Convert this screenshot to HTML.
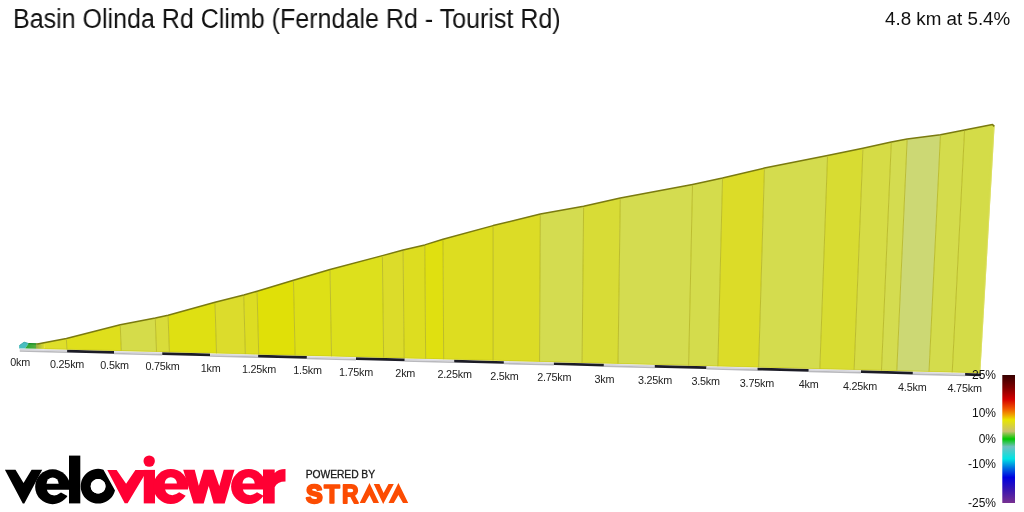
<!DOCTYPE html>
<html><head><meta charset="utf-8"><style>
html,body{margin:0;padding:0;background:#fff;}
body{width:1024px;height:512px;position:relative;overflow:hidden;font-family:"Liberation Sans",sans-serif;}
.t{position:absolute;white-space:nowrap;color:#111;will-change:transform;}
svg{position:absolute;left:0;top:0;will-change:transform;}
</style></head><body>
<div class="t" id="title" style="left:12.8px;top:3.7px;font-size:27px;line-height:30px;transform:scaleX(0.927);transform-origin:0 0;">Basin Olinda Rd Climb (Ferndale Rd - Tourist Rd)</div>
<div class="t" id="stat" style="right:13.5px;top:8px;font-size:18.8px;line-height:22px;">4.8 km at 5.4%</div>
<svg width="1024" height="512" viewBox="0 0 1024 512" font-family="Liberation Sans, sans-serif">
<polygon points="44.3,348.93 44,342.7 66.4,338.5 66.91,349.51" fill="#dede2a"/>
<polygon points="66.91,349.51 66.4,338.5 120.25,324.8 121.3,350.91" fill="#dfdf1c"/>
<polygon points="121.3,350.91 120.25,324.8 155.3,318.1 156.53,351.82" fill="#d5dc4a"/>
<polygon points="156.53,351.82 155.3,318.1 168.1,315.2 169.4,352.15" fill="#d9dc3a"/>
<polygon points="169.4,352.15 168.1,315.2 215,302.25 216.53,353.37" fill="#dfe012"/>
<polygon points="216.53,353.37 215,302.25 243.75,295 245.34,354.11" fill="#dcdc2c"/>
<polygon points="245.34,354.11 243.75,295 257.1,291.25 258.71,354.46" fill="#dddd22"/>
<polygon points="258.71,354.46 257.1,291.25 293.5,280.25 295.12,355.4" fill="#e0e008"/>
<polygon points="295.12,355.4 293.5,280.25 330,269.5 331.53,356.34" fill="#dee016"/>
<polygon points="331.53,356.34 330,269.5 382.4,255.6 383.63,357.68" fill="#dde01c"/>
<polygon points="383.63,357.68 382.4,255.6 403.1,250 404.16,358.21" fill="#dcdc2a"/>
<polygon points="404.16,358.21 403.1,250 424.8,244.9 425.65,358.77" fill="#dddd20"/>
<polygon points="425.65,358.77 424.8,244.9 443,239.3 443.66,359.23" fill="#e0e010"/>
<polygon points="443.66,359.23 443,239.3 493.1,225.6 493.11,360.51" fill="#dddd20"/>
<polygon points="493.11,360.51 493.1,225.6 540.3,214.1 539.56,361.7" fill="#dcdc26"/>
<polygon points="539.56,361.7 540.3,214.1 583.6,206.3 582.09,362.8" fill="#d4dc50"/>
<polygon points="582.09,362.8 583.6,206.3 620.25,198.1 618,363.73" fill="#d8dc36"/>
<polygon points="618,363.73 620.25,198.1 692.5,184.4 688.63,365.55" fill="#d4dc50"/>
<polygon points="688.63,365.55 692.5,184.4 722.5,178.1 717.87,366.31" fill="#d4dc4c"/>
<polygon points="717.87,366.31 722.5,178.1 764.4,168.1 758.6,367.36" fill="#dcdc28"/>
<polygon points="758.6,367.36 764.4,168.1 827.5,155.6 819.84,368.94" fill="#d4dc4e"/>
<polygon points="819.84,368.94 827.5,155.6 862.9,148.3 854.11,369.82" fill="#d8dc32"/>
<polygon points="854.11,369.82 862.9,148.3 891.25,141.9 881.48,370.53" fill="#d6dc46"/>
<polygon points="881.48,370.53 891.25,141.9 907.1,139.1 896.8,370.92" fill="#d4dc50"/>
<polygon points="896.8,370.92 907.1,139.1 940.4,134.8 929.02,371.75" fill="#ccd874"/>
<polygon points="929.02,371.75 940.4,134.8 964.5,130 952.23,372.35" fill="#d4dc4c"/>
<polygon points="952.23,372.35 964.5,130 992.5,124.6 979.17,373.05" fill="#d4dc48"/>
<g stroke="#b6b622" stroke-width="0.85"><line x1="66.4" y1="339.5" x2="66.91" y2="349.51"/>
<line x1="120.25" y1="325.8" x2="121.3" y2="350.91"/>
<line x1="155.3" y1="319.1" x2="156.53" y2="351.82"/>
<line x1="168.1" y1="316.2" x2="169.4" y2="352.15"/>
<line x1="215" y1="303.25" x2="216.53" y2="353.37"/>
<line x1="243.75" y1="296" x2="245.34" y2="354.11"/>
<line x1="257.1" y1="292.25" x2="258.71" y2="354.46"/>
<line x1="293.5" y1="281.25" x2="295.12" y2="355.4"/>
<line x1="330" y1="270.5" x2="331.53" y2="356.34"/>
<line x1="382.4" y1="256.6" x2="383.63" y2="357.68"/>
<line x1="403.1" y1="251" x2="404.16" y2="358.21"/>
<line x1="424.8" y1="245.9" x2="425.65" y2="358.77"/>
<line x1="443" y1="240.3" x2="443.66" y2="359.23"/>
<line x1="493.1" y1="226.6" x2="493.11" y2="360.51"/>
<line x1="540.3" y1="215.1" x2="539.56" y2="361.7"/>
<line x1="583.6" y1="207.3" x2="582.09" y2="362.8"/>
<line x1="620.25" y1="199.1" x2="618" y2="363.73"/>
<line x1="692.5" y1="185.4" x2="688.63" y2="365.55"/>
<line x1="722.5" y1="179.1" x2="717.87" y2="366.31"/>
<line x1="764.4" y1="169.1" x2="758.6" y2="367.36"/>
<line x1="827.5" y1="156.6" x2="819.84" y2="368.94"/>
<line x1="862.9" y1="149.3" x2="854.11" y2="369.82"/>
<line x1="891.25" y1="142.9" x2="881.48" y2="370.53"/>
<line x1="907.1" y1="140.1" x2="896.8" y2="370.92"/>
<line x1="940.4" y1="135.8" x2="929.02" y2="371.75"/>
<line x1="964.5" y1="131" x2="952.23" y2="372.35"/></g>
<polygon points="991.5,124.9 994.6,126.2 980.27,373.05 978.17,373.05" fill="#d4dc48"/><line x1="994.1" y1="126.8" x2="979.87" y2="372.75" stroke="#dfe06a" stroke-width="0.7"/>
<defs>
<linearGradient id="gg" x1="0" y1="0" x2="1" y2="0"><stop offset="0" stop-color="#22a636"/><stop offset="1" stop-color="#5aae40"/></linearGradient>
<linearGradient id="og" x1="0" y1="0" x2="1" y2="0"><stop offset="0" stop-color="#98ac44"/><stop offset="1" stop-color="#dcdc2c"/></linearGradient>
</defs>
<polygon points="19.1,348.4 19.1,345.8 24.1,342.1 28.6,343.5 25.1,348.5" fill="#48bec0"/>
<polyline points="19.3,345.6 24.1,342.2 28.6,343.5" fill="none" stroke="#3aa8aa" stroke-width="0.9"/>
<polygon points="25.1,348.5 28.6,343.5 36.2,343.8 36.2,348.8" fill="url(#gg)"/>
<polyline points="28.4,343.6 36.2,343.9" fill="none" stroke="#168a22" stroke-width="1.1"/>
<polygon points="36,348.8 36,343.8 38,343.8 44.2,342.6 44.2,349" fill="url(#og)"/>
<polyline points="36,343.9 38,343.85" fill="none" stroke="#6a8a20" stroke-width="1.1"/>
<polyline points="37.6,343.9 44,342.7 66.4,338.5 120.25,324.8 155.3,318.1 168.1,315.2 215,302.25 243.75,295 257.1,291.25 293.5,280.25 330,269.5 382.4,255.6 403.1,250 424.8,244.9 443,239.3 493.1,225.6 540.3,214.1 583.6,206.3 620.25,198.1 692.5,184.4 722.5,178.1 764.4,168.1 827.5,155.6 862.9,148.3 891.25,141.9 907.1,139.1 940.4,134.8 964.5,130 992.5,124.6 994.4,126.4" fill="none" stroke="#7a7a10" stroke-width="1.5" stroke-linejoin="round"/>
<polygon points="19.75,348.74 67.1,349.97 67.1,351.47 19.75,350.24" fill="#d6d6de"/>
<polygon points="19.75,350.24 67.1,351.47 67.1,353.07 19.75,351.84" fill="#b9b9bd"/>
<polygon points="67.1,349.87 114,351.08 114,353.78 67.1,352.57" fill="#1c1c26"/>
<polygon points="114,351.18 162.25,352.42 162.25,353.92 114,352.68" fill="#d6d6de"/>
<polygon points="114,352.68 162.25,353.92 162.25,355.52 114,354.28" fill="#b9b9bd"/>
<polygon points="162.25,352.32 210,353.55 210,356.25 162.25,355.02" fill="#1c1c26"/>
<polygon points="210,353.65 258.1,354.89 258.1,356.39 210,355.15" fill="#d6d6de"/>
<polygon points="210,355.15 258.1,356.39 258.1,357.99 210,356.75" fill="#b9b9bd"/>
<polygon points="258.1,354.79 306.9,356.05 306.9,358.75 258.1,357.49" fill="#1c1c26"/>
<polygon points="306.9,356.15 356,357.42 356,358.92 306.9,357.65" fill="#d6d6de"/>
<polygon points="306.9,357.65 356,358.92 356,360.52 306.9,359.25" fill="#b9b9bd"/>
<polygon points="356,357.32 404.75,358.58 404.75,361.28 356,360.02" fill="#1c1c26"/>
<polygon points="404.75,358.68 454.2,359.95 454.2,361.45 404.75,360.18" fill="#d6d6de"/>
<polygon points="404.75,360.18 454.2,361.45 454.2,363.05 404.75,361.78" fill="#b9b9bd"/>
<polygon points="454.2,359.85 503.9,361.13 503.9,363.83 454.2,362.55" fill="#1c1c26"/>
<polygon points="503.9,361.23 553.9,362.52 553.9,364.02 503.9,362.73" fill="#d6d6de"/>
<polygon points="503.9,362.73 553.9,364.02 553.9,365.62 503.9,364.33" fill="#b9b9bd"/>
<polygon points="553.9,362.42 603.9,363.71 603.9,366.41 553.9,365.12" fill="#1c1c26"/>
<polygon points="603.9,363.81 654.75,365.13 654.75,366.63 603.9,365.31" fill="#d6d6de"/>
<polygon points="603.9,365.31 654.75,366.63 654.75,368.23 603.9,366.91" fill="#b9b9bd"/>
<polygon points="654.75,365.03 706.5,366.36 706.5,369.06 654.75,367.73" fill="#1c1c26"/>
<polygon points="706.5,366.46 757.5,367.78 757.5,369.28 706.5,367.96" fill="#d6d6de"/>
<polygon points="706.5,367.96 757.5,369.28 757.5,370.88 706.5,369.56" fill="#b9b9bd"/>
<polygon points="757.5,367.68 808.75,369 808.75,371.7 757.5,370.38" fill="#1c1c26"/>
<polygon points="808.75,369.1 861,370.45 861,371.95 808.75,370.6" fill="#d6d6de"/>
<polygon points="808.75,370.6 861,371.95 861,373.55 808.75,372.2" fill="#b9b9bd"/>
<polygon points="861,370.35 912.9,371.69 912.9,374.39 861,373.05" fill="#1c1c26"/>
<polygon points="912.9,371.79 965.1,373.13 965.1,374.63 912.9,373.29" fill="#d6d6de"/>
<polygon points="912.9,373.29 965.1,374.63 965.1,376.23 912.9,374.89" fill="#b9b9bd"/>
<polygon points="965.1,373.03 981,373.44 981,376.14 965.1,375.73" fill="#1c1c26"/>
<line x1="44" y1="348.62" x2="981" y2="372.79" stroke="#c8c818" stroke-width="1" opacity="0.6"/>

<defs>
<linearGradient id="lg" x1="0" y1="0" x2="0" y2="1">
<stop offset="0" stop-color="#360000"/>
<stop offset="0.10" stop-color="#800000"/>
<stop offset="0.19" stop-color="#d40000"/>
<stop offset="0.265" stop-color="#f05800"/>
<stop offset="0.31" stop-color="#f0a000"/>
<stop offset="0.35" stop-color="#e8e600"/>
<stop offset="0.44" stop-color="#c8c070"/>
<stop offset="0.50" stop-color="#00c800"/>
<stop offset="0.56" stop-color="#70c0c0"/>
<stop offset="0.655" stop-color="#00e4e4"/>
<stop offset="0.725" stop-color="#0070e0"/>
<stop offset="0.80" stop-color="#0000e0"/>
<stop offset="0.89" stop-color="#3414b4"/>
<stop offset="1" stop-color="#783090"/>
</linearGradient>
</defs>
<rect x="1002.3" y="375" width="12.7" height="128" fill="url(#lg)"/>
<g font-size="12" text-anchor="end" fill="#111">
<text x="996" y="379">25%</text>
<text x="996" y="417.4">10%</text>
<text x="996" y="443.4">0%</text>
<text x="996" y="468.4">-10%</text>
<text x="996" y="507.1">-25%</text>
</g>

<g font-size="10.8" text-anchor="middle" fill="#222" letter-spacing="-0.2">
<text x="20.2" y="366.49">0km</text>
<text x="67.05" y="367.78">0.25km</text>
<text x="114.5" y="369.08">0.5km</text>
<text x="162.5" y="370.39">0.75km</text>
<text x="210.6" y="371.71">1km</text>
<text x="259" y="373.03">1.25km</text>
<text x="307.5" y="374.36">1.5km</text>
<text x="356" y="375.69">1.75km</text>
<text x="405.25" y="377.04">2km</text>
<text x="454.6" y="378.39">2.25km</text>
<text x="504.4" y="379.76">2.5km</text>
<text x="554.25" y="381.12">2.75km</text>
<text x="604.4" y="382.5">3km</text>
<text x="655" y="383.89">3.25km</text>
<text x="705.6" y="385.27">3.5km</text>
<text x="756.9" y="386.68">3.75km</text>
<text x="808.6" y="388.09">4km</text>
<text x="860" y="389.5">4.25km</text>
<text x="912.25" y="390.93">4.5km</text>
<text x="964.6" y="392.37">4.75km</text>
</g>

<g>
<polygon points="4.9,469.7 15.5,469.7 23.55,482.9 31.6,469.7 42.2,469.7 24.3,503.5 22.8,503.5" fill="#000"/>
<circle cx="52.6" cy="486.75" r="17.45" fill="#000"/>
<path d="M46.5,483.8 A6.1,6.4 0 0 1 58.7,483.8 Z" fill="#fff"/>
<path d="M46.9,489.8 H71.55 V498.35 L61,492.6 Q57.1,495.75 53.2,495.35 Q48.1,494.75 46.9,489.8 Z" fill="#fff"/>
<rect x="69" y="455.6" width="11.3" height="47.8" fill="#000"/>
<clipPath id="oc"><polygon points="60,460 103.6,460 103.6,469.9 122,503 122,510 60,510"/></clipPath>
<g clip-path="url(#oc)">
<path d="M98.1,468.8 a17.4,17.4 0 1 1 -0.01,0 Z M98.1,478.9 a7.35,7.35 0 1 0 0.01,0 Z" fill="#000" fill-rule="evenodd"/>
</g>
<path d="M98.1,478.9 a7.35,7.35 0 1 0 0.01,0 Z" fill="#fff"/>
<polygon points="107.3,469.9 116.6,469.9 126.1,483.7 135.4,469.9 147.5,469.9 127.6,503.2 124.7,503.2" fill="#ff0033"/>
<rect x="143.75" y="469.9" width="11.25" height="33.5" fill="#ff0033"/>
<circle cx="149.2" cy="461.1" r="5.7" fill="#ff0033"/>
<circle cx="170.8" cy="486.5" r="17.5" fill="#ff0033"/>
<path d="M164.7,483.55 A6.1,6.4 0 0 1 176.9,483.55 Z" fill="#fff"/>
<path d="M165.1,489.55 H189.8 V498.1 L179.2,492.35 Q175.3,495.5 171.4,495.1 Q166.3,494.5 165.1,489.55 Z" fill="#fff"/>
<polygon points="183.2,469.7 194.7,469.7 198.8,485.7 203.7,469.7 213.6,469.7 219.3,486.1 223.8,469.7 234.5,469.7 224.7,503.6 213.6,503.6 208.7,486.1 203.7,503.6 193.5,503.6" fill="#ff0033"/>
<circle cx="248.6" cy="486.5" r="17.5" fill="#ff0033"/>
<path d="M242.5,483.55 A6.1,6.4 0 0 1 254.7,483.55 Z" fill="#fff"/>
<path d="M242.9,489.55 H267.6 V498.1 L257,492.35 Q253.1,495.5 249.2,495.1 Q244.1,494.5 242.9,489.55 Z" fill="#fff"/>
<path d="M263,469.4 H274.7 V473 Q278,468.9 285.5,468.9 V481.6 Q277,481.6 274.7,487.2 V503.6 H263 Z" fill="#ff0033"/>
</g>


<text x="305.7" y="477.5" font-size="10.3" fill="#1a1a1a" stroke="#1a1a1a" stroke-width="0.3" letter-spacing="-0.05">POWERED BY</text>
<g fill="#fc4c02">
<g font-size="26" font-weight="bold" stroke="#fc4c02" stroke-width="1.5" stroke-linejoin="round">
<text x="306.0" y="502.6" stroke-width="2.3" textLength="16.6" lengthAdjust="spacingAndGlyphs">S</text>
<text x="324" y="502.6">T</text>
<text x="341.9" y="502.6" stroke-width="1.8" textLength="16.6" lengthAdjust="spacingAndGlyphs">R</text>
</g>
<polygon points="359.7,503 369.5,482.9 379,503 373.4,503 369.5,494.9 365,503"/>
<polygon points="373.75,484 379.4,484 383.6,493.1 388.5,484 393.8,484 383.2,504"/>
<polygon points="388.5,503 398.4,482.9 408.2,503 403,503 398.4,494.9 393.8,503"/>
</g>

</svg>
</body></html>
